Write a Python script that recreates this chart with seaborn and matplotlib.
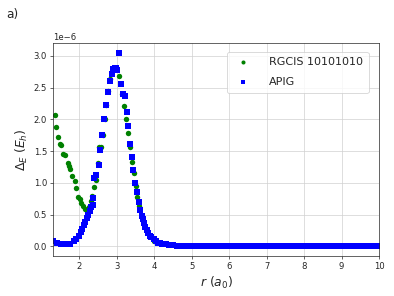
import numpy as np
import pandas as pd
import seaborn as sns
from matplotlib import pyplot as plt

# energy differences, in units of 1e-6 E_h
r_rgcis = [1.34, 1.38, 1.43, 1.47, 1.51, 1.57, 1.61, 1.70, 1.73, 1.76,
           1.81, 1.87, 1.92, 1.97, 2.01, 2.05, 2.10, 2.14, 2.20, 2.25,
           2.30, 2.34, 2.40, 2.44, 2.49, 2.53, 2.57, 2.62, 2.67, 2.72,
           2.76, 2.82, 2.91, 2.96, 3.05, 3.14, 3.20, 3.25, 3.30, 3.35,
           3.40, 3.45, 3.50, 3.55, 3.60, 3.70, 3.80, 3.90, 4.00]
e_rgcis = [2.07, 1.88, 1.72, 1.61, 1.59, 1.46, 1.44, 1.32, 1.27, 1.21,
           1.11, 1.03, 0.92, 0.77, 0.74, 0.69, 0.63, 0.59, 0.55, 0.62,
           0.72, 0.80, 0.93, 1.05, 1.31, 1.56, 1.57, 1.76, 2.01, 2.23,
           2.44, 2.64, 2.81, 2.80, 2.68, 2.40, 2.21, 2.00, 1.78, 1.57,
           1.33, 1.15, 0.95, 0.78, 0.64, 0.40, 0.24, 0.14, 0.09]

r_apig = [1.30, 1.40, 1.50, 1.60, 1.67, 1.75, 1.85, 1.92, 1.98, 2.03,
          2.07, 2.12, 2.16, 2.20, 2.23, 2.27, 2.31, 2.35, 2.37, 2.39,
          2.44, 2.51, 2.56, 2.60, 2.66, 2.71, 2.76, 2.81, 2.87, 2.89,
          2.94, 2.98, 3.01, 3.06, 3.12, 3.17, 3.21, 3.27, 3.31, 3.36,
          3.40, 3.44, 3.49, 3.53, 3.58, 3.62, 3.66, 3.69, 3.73, 3.76,
          3.80, 3.84, 3.88, 3.92, 3.98, 4.05, 4.10, 4.15,
          4.2, 4.3, 4.4, 4.5, 4.6, 4.7, 4.8, 4.9, 5.0, 5.1,
          5.2, 5.3, 5.4, 5.5, 5.6, 5.7, 5.8, 5.9, 6.0, 6.1,
          6.2, 6.3, 6.4, 6.5, 6.6, 6.7, 6.8, 6.9, 7.0, 7.1,
          7.2, 7.3, 7.4, 7.5, 7.6, 7.7, 7.8, 7.9, 8.0, 8.1,
          8.2, 8.3, 8.4, 8.5, 8.6, 8.7, 8.8, 8.9, 9.0, 9.1,
          9.2, 9.3, 9.4, 9.5, 9.6, 9.7, 9.8, 9.9, 10.0]
e_apig = [0.08, 0.06, 0.04, 0.03, 0.03, 0.04, 0.08, 0.12, 0.17, 0.22,
          0.27, 0.33, 0.38, 0.45, 0.50, 0.56, 0.62, 0.65, 0.76, 1.07,
          1.12, 1.28, 1.52, 1.75, 2.00, 2.22, 2.43, 2.61, 2.71, 2.79,
          2.81, 2.81, 2.77, 3.05, 2.56, 2.40, 2.36, 2.12, 1.89, 1.61,
          1.40, 1.20, 1.00, 0.85, 0.70, 0.57, 0.48, 0.43, 0.36, 0.31,
          0.26, 0.21, 0.17, 0.14, 0.11, 0.08, 0.06, 0.05,
          0.04, 0.03, 0.02, 0.015, 0.01, 0.007, 0.005, 0.004, 0.003, 0.002,
          0.002, 0.001, 0.001, 0.001, 0.0, 0.0, 0.0, 0.0, 0.0, 0.0,
          0.0, 0.0, 0.0, 0.0, 0.0, 0.0, 0.0, 0.0, 0.0, 0.0,
          0.0, 0.0, 0.0, 0.0, 0.0, 0.0, 0.0, 0.0, 0.0, 0.0,
          0.0, 0.0, 0.0, 0.0, 0.0, 0.0, 0.0, 0.0, 0.0, 0.0,
          0.0, 0.0, 0.0, 0.0, 0.0, 0.0, 0.0, 0.0, 0.0]

labels = ["RGCIS 10101010", "APIG"]

sns.set_style("ticks", {"axes.grid": True, "grid.color": "#d0d0d0",
                        "axes.edgecolor": "#222222"})
plt.rcParams['font.family'] = ['DejaVu Sans']

dpi = 61.6
fig = plt.figure(figsize=(394 / dpi, 296 / dpi), dpi=dpi)
ax = fig.add_axes([0.135, 0.135, 0.827, 0.72])

rg = pd.DataFrame({"r": r_rgcis, "E": np.array(e_rgcis) * 1e-6})
ap = pd.DataFrame({"r": r_apig, "E": np.array(e_apig) * 1e-6})

sns.scatterplot(data=rg, x="r", y="E", ax=ax, color="green", marker="o",
                s=40, linewidth=0, label=labels[0])
sns.scatterplot(data=ap, x="r", y="E", ax=ax, color="blue", marker="s",
                s=55, linewidth=0, label=labels[1])

ax.set_xlim(1.3, 10)
ax.set_xlabel(r'$r$ $(a_0)$', fontsize=14.5)
ax.set_ylabel(r'$\Delta_E$ $(E_h)$', fontsize=14.5)
ax.tick_params(labelsize=10)
ax.legend(loc="upper right", fontsize=13, markerscale=0.75, framealpha=0.8,
          labelspacing=0.9, handletextpad=1.3, borderpad=0.5,
          bbox_to_anchor=(0.985, 0.985))
ax.yaxis.get_offset_text().set_fontsize(10)

fig.text(0.015, 0.94, "a)", fontsize=14)

fig.savefig("out.png", dpi=dpi)
